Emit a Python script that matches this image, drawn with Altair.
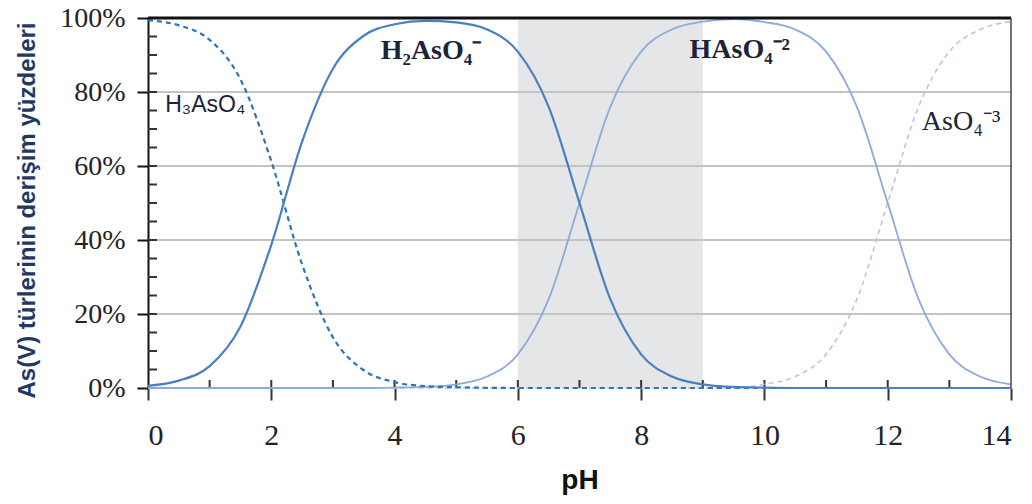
import altair as alt
import pandas as pd

# pH grid and species fractions (%)
ph = [0, 0.5, 1, 1.5, 2, 2.5, 3, 3.5, 4, 4.5, 5, 5.5, 6, 6.5, 7, 7.5, 8, 8.5, 9,
      9.5, 10, 10.5, 11, 11.5, 12, 12.5, 13, 13.5, 14]
h3aso4 = [99.4, 98.0, 94.1, 83.4, 61.3, 33.4, 13.7, 4.8, 1.6, 0.5, 0.2, 0.05, 0, 0, 0,
          0, 0, 0, 0, 0, 0, 0, 0, 0, 0, 0, 0, 0, 0]
h2aso4 = [0.6, 2.0, 5.9, 16.6, 38.7, 66.6, 86.3, 95.2, 98.3, 99.2, 98.8, 96.9, 90.9,
          76.0, 50.0, 24.0, 9.1, 3.1, 1.0, 0.3, 0.1, 0, 0, 0, 0, 0, 0, 0, 0]
haso4 = [0, 0, 0, 0, 0, 0, 0, 0, 0.1, 0.3, 1.0, 3.1, 9.1, 24.0, 50.0, 76.0, 90.9, 96.9,
         99.0, 99.7, 98.9, 96.9, 90.9, 76.0, 50.0, 24.0, 9.1, 3.1, 1.0]
aso4 = [0, 0, 0, 0, 0, 0, 0, 0, 0, 0, 0, 0, 0, 0, 0, 0, 0, 0, 0, 0, 1.0, 3.1, 9.1,
        24.0, 50.0, 76.0, 90.9, 96.9, 99.0]

pct_ticks = [0, 20, 40, 60, 80, 100]
ph_ticks = [0, 2, 4, 6, 8, 10, 12, 14]
grid_pct = [20, 40, 60, 80]
minor_pct = [5, 10, 15, 20, 25, 30, 35, 40, 45, 50, 55, 60, 65, 70, 75, 80, 85, 90, 95]
minor_ph = [1, 2, 3, 4, 5, 6, 7, 8, 9, 10, 11, 12, 13]
band_ph = [6, 9]

label_text = ["H₃AsO₄", "H₂AsO₄⁻", "HAsO₄⁻²", "AsO₄⁻³"]
label_ph = [0.28, 4.59, 9.6, 13.19]
label_pct = [76.5, 91.0, 91.4, 72.0]

df = pd.DataFrame({"ph": ph, "h3": h3aso4, "h2": h2aso4, "h1": haso4, "h0": aso4})

W, H = 863, 370
xs = alt.Scale(domain=[0, 14], nice=False, zero=False)
ys = alt.Scale(domain=[0, 100], nice=False)

# gray band
band = alt.Chart(pd.DataFrame({"a": [band_ph[0]], "b": [band_ph[1]]})).mark_rect(
    color="#E5E6E8").encode(
    x=alt.X("a:Q", scale=xs,
            axis=alt.Axis(values=ph_ticks, title="pH", grid=False, domain=False,
                          format="d",
                          tickSize=12, tickWidth=2, tickColor="#333",
                          labelFont="Liberation Serif", labelFontSize=30,
                          labelColor="#222", labelPadding=20,
                          titleFont="Liberation Sans", titleFontSize=28,
                          titleFontWeight="bold", titleColor="#111", titlePadding=16)),
    x2="b:Q",
    y=alt.value(0), y2=alt.value(H))

grid = alt.Chart(pd.DataFrame({"v": grid_pct})).mark_rule(
    color="#C4C4C4", strokeWidth=2).encode(
    y=alt.Y("v:Q", scale=ys,
            axis=alt.Axis(values=pct_ticks, title="As(V) türlerinin derişim yüzdeleri",
                          grid=False, labelExpr="datum.value + '%'",
                          domainColor="#111", domainWidth=2,
                          tickSize=11, tickWidth=2, tickColor="#111",
                          labelFont="Liberation Serif", labelFontSize=28,
                          labelColor="#222", labelPadding=12,
                          titleFont="Liberation Sans", titleFontSize=24,
                          titleFontWeight="bold", titleColor="#1F3864",
                          titlePadding=20, titleY=192)),
    x=alt.value(0), x2=alt.value(W))

ymin = alt.Chart(pd.DataFrame({"v": minor_pct})).mark_rule(
    color="#333", strokeWidth=2).encode(
    y=alt.Y("v:Q", scale=ys), x=alt.value(0), x2=alt.value(9))

xmin = alt.Chart(pd.DataFrame({"v": minor_ph})).mark_rule(
    color="#333", strokeWidth=2).encode(
    x=alt.X("v:Q", scale=xs), y=alt.value(H - 8), y2=alt.value(H))

top = alt.Chart(pd.DataFrame({"v": [100]})).mark_rule(
    color="#111", strokeWidth=3).encode(
    y=alt.Y("v:Q", scale=ys), x=alt.value(0), x2=alt.value(W))

right = alt.Chart(pd.DataFrame({"v": [14]})).mark_rule(
    color="#444", strokeWidth=1.5).encode(
    x=alt.X("v:Q", scale=xs), y=alt.value(0), y2=alt.value(H))

base = alt.Chart(df)


def line(col, color, width, dash=None):
    kw = dict(color=color, strokeWidth=width, interpolate="monotone")
    if dash:
        kw["strokeDash"] = dash
    return base.mark_line(**kw).encode(
        x=alt.X("ph:Q", scale=xs), y=alt.Y(f"{col}:Q", scale=ys))


l0 = line("h0", "#B4C7E7", 1.6, [5, 4])
l1 = line("h1", "#8EAADB", 1.8)
l3 = line("h3", "#2E75B6", 2.2, [5, 4])
l2 = line("h2", "#4A7FC1", 2.2)

lab_df = pd.DataFrame({"t": label_text, "x": label_ph, "y": label_pct})


def lab(i, font, weight, size, align):
    return alt.Chart(lab_df.iloc[[i]]).mark_text(
        font=font, fontWeight=weight, fontSize=size, align=align,
        baseline="middle", color="#1B2436").encode(
        x=alt.X("x:Q", scale=xs), y=alt.Y("y:Q", scale=ys), text="t:N")


t0 = lab(0, "Liberation Sans", "normal", 23, "left")
t1 = lab(1, "Liberation Serif", "bold", 28, "center")
t2 = lab(2, "Liberation Serif", "bold", 28, "center")
t3 = lab(3, "Liberation Serif", "normal", 28, "center")

chart = alt.layer(band, grid, ymin, xmin, l0, l1, l3, l2, top, right,
                  t0, t1, t2, t3).properties(
    width=W, height=H,
    autosize=alt.AutoSizeParams(type="none"),
    padding={"left": 140, "top": 10, "right": 13, "bottom": 114},
).configure_view(stroke=None)

chart.save("out.html", embed_options={"renderer": "svg", "actions": False})
